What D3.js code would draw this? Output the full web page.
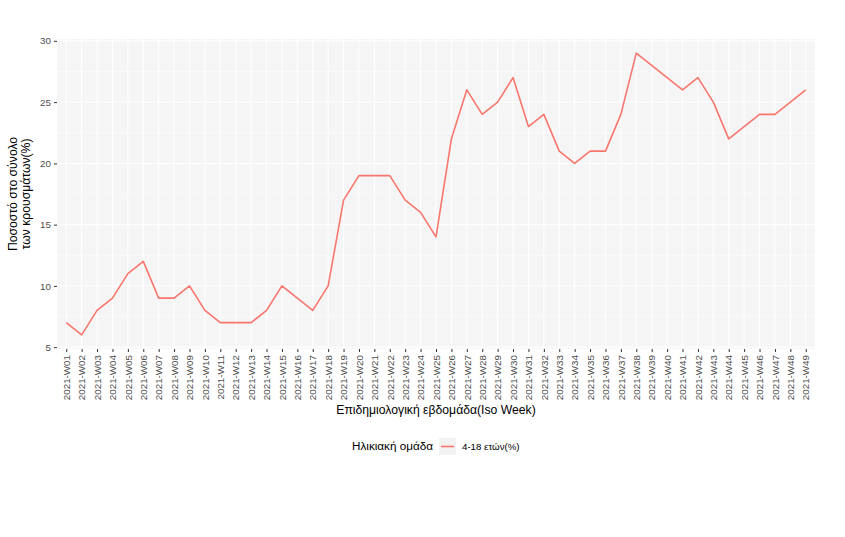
<!DOCTYPE html>
<html>
<head>
<meta charset="utf-8">
<script src="https://cdn.jsdelivr.net/npm/d3@7"></script>
<style>
  body { margin: 0; background: #fff; }
  text { font-family: "Liberation Sans", Arial, sans-serif; }
</style>
</head>
<body>
<svg width="845" height="537"></svg>
<script>
// weeks and values (4-18 age group share of cases)
const weeks = d3.range(1, 50).map(i => "2021-W" + String(i).padStart(2, "0"));
const values = [7, 6, 8, 9, 11, 12, 9, 9, 10, 8, 7, 7, 7, 8, 10, 9, 8, 10, 17, 19,
    19, 19, 17, 16, 14, 22, 26, 24, 25, 27, 23, 24, 21, 20, 21, 21, 24, 29, 28, 27,
    26, 27, 25, 22, 23, 24, 24, 25, 26];
const yTicks = [5, 10, 15, 20, 25, 30];
const seriesName = "4-18 ετών(%)";

const svg = d3.select("svg");
const mLeft = 57, mRight = 815, mTop = 39, mBottom = 349;

const x = d3.scalePoint()
    .domain(weeks)
    .range([mLeft, mRight])
    .padding(0.6);

const y = d3.scaleLinear()
    .domain([4.85, 30.15])
    .range([mBottom, mTop]);

// panel
svg.append("rect")
    .attr("x", mLeft).attr("y", mTop)
    .attr("width", mRight - mLeft).attr("height", mBottom - mTop)
    .attr("fill", "#f5f5f5");

// minor grid
const minor = d3.range(7.5, 30, 5);
svg.selectAll(".minor").data(minor).enter().append("line")
    .attr("x1", mLeft).attr("x2", mRight)
    .attr("y1", d => y(d)).attr("y2", d => y(d))
    .attr("stroke", "#fff").attr("stroke-width", 0.5);

// major grid
svg.selectAll(".hgrid").data(yTicks).enter().append("line")
    .attr("x1", mLeft).attr("x2", mRight)
    .attr("y1", d => y(d)).attr("y2", d => y(d))
    .attr("stroke", "#fff").attr("stroke-width", 1);

svg.selectAll(".vgrid").data(weeks).enter().append("line")
    .attr("y1", mTop).attr("y2", mBottom)
    .attr("x1", d => x(d)).attr("x2", d => x(d))
    .attr("stroke", "#fff").attr("stroke-width", 1);

// y axis
const yAxis = svg.append("g")
    .attr("transform", "translate(" + mLeft + ",0)")
    .call(d3.axisLeft(y).tickValues(yTicks).tickSize(3).tickPadding(3));
yAxis.select(".domain").remove();
yAxis.selectAll("line").attr("stroke", "#333");
yAxis.selectAll("text").attr("fill", "#4d4d4d").style("font-size", "9.8px");

// x axis
const xAxis = svg.append("g")
    .attr("transform", "translate(0," + mBottom + ")")
    .call(d3.axisBottom(x).tickSize(3).tickPadding(3));
xAxis.select(".domain").remove();
xAxis.selectAll("line").attr("stroke", "#333");
xAxis.selectAll("text")
    .attr("fill", "#4d4d4d")
    .style("font-size", "9.8px")
    .attr("text-anchor", "end")
    .attr("dy", "0.33em")
    .attr("transform", "translate(0, 6) rotate(-90)")
    .attr("x", 0).attr("y", 0);

// line
const line = d3.line()
    .x((d, i) => x(weeks[i]))
    .y(d => y(d));

svg.append("path")
    .datum(values)
    .attr("fill", "none")
    .attr("stroke", "#F8766D")
    .attr("stroke-width", 1.6)
    .attr("stroke-linejoin", "round")
    .attr("d", line);

// axis titles
svg.append("text")
    .attr("x", (mLeft + mRight) / 2).attr("y", 414)
    .attr("text-anchor", "middle")
    .style("font-size", "12.2px")
    .text("Επιδημιολογική εβδομάδα(Iso Week)");

const yt = svg.append("text")
    .attr("transform", "translate(0," + ((mTop + mBottom) / 2) + ") rotate(-90)")
    .attr("text-anchor", "middle")
    .style("font-size", "12.2px");
yt.append("tspan").attr("x", 0).attr("y", 17).text("Ποσοστό στο σύνολο");
yt.append("tspan").attr("x", 0).attr("y", 30).text("των κρουσμάτων(%)");

// legend
const lg = svg.append("g").attr("transform", "translate(352,446)");
lg.append("text")
    .attr("x", 0).attr("y", 4)
    .style("font-size", "11.7px")
    .text("Ηλικιακή ομάδα");
lg.append("rect")
    .attr("x", 87).attr("y", -8).attr("width", 17).attr("height", 17)
    .attr("fill", "#f2f2f2");
lg.append("line")
    .attr("x1", 89).attr("x2", 102).attr("y1", 0.5).attr("y2", 0.5)
    .attr("stroke", "#F8766D").attr("stroke-width", 1.6);
lg.append("text")
    .attr("x", 110).attr("y", 3.5)
    .style("font-size", "9.7px")
    .text(seriesName);
</script>
</body>
</html>
